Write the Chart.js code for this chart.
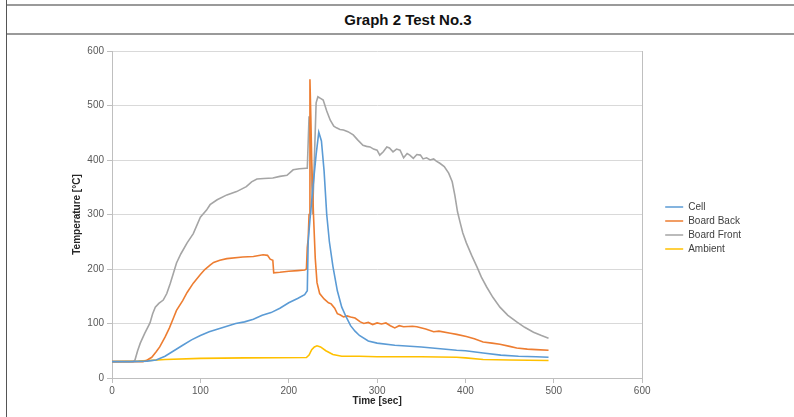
<!DOCTYPE html>
<html>
<head>
<meta charset="utf-8">
<script src="https://cdn.jsdelivr.net/npm/chart.js@4/dist/chart.umd.min.js"></script>
<style>
    body { margin: 0; background: #fff; width: 794px; height: 417px; overflow: hidden; position: relative; font-family: "Liberation Sans", Arial, sans-serif; }
    .hline { position: absolute; left: 6px; right: 0; height: 2px; background: #9a9a9a; }
    .vline { position: absolute; left: 6px; top: 0; bottom: 0; width: 1px; background: #555; }
    #title { position: absolute; left: 6px; right: -16px; top: 5px; height: 29px; line-height: 30px; text-align: center; font-weight: bold; font-size: 15px; color: #111; }
    #box { position: absolute; left: 8px; top: 36px; width: 786px; height: 381px; }
</style>
</head>
<body>
<div class="hline" style="top:4px"></div>
<div class="hline" style="top:33px"></div>
<div class="vline"></div>
<div id="title">Graph 2 Test No.3</div>
<div id="box"><canvas id="graph" width="786" height="381"></canvas></div>
<script>
    // Series: time [sec] and temperature [°C]
    var cellTime = [0, 20, 40, 50, 60, 70, 80, 90, 100, 110, 120, 130, 140, 150, 160, 170, 180, 190, 200, 210, 218, 221, 222, 224, 228, 231, 234, 237, 240, 243, 246, 250, 255, 260, 265, 270, 275, 280, 290, 300, 320, 350, 390, 400, 420, 440, 460, 480, 494];
    var cellTemp = [30, 30, 31, 33, 40, 50, 60, 70, 78, 85, 90, 95, 100, 103, 108, 115, 120, 128, 138, 146, 153, 160, 250, 290, 360, 410, 451, 435, 380, 300, 250, 205, 160, 130, 112, 96, 86, 78, 68, 64, 60, 57, 51, 50, 46, 42, 40, 39, 38];

    var backTime = [0, 20, 35, 40, 45, 50, 54, 60, 65, 70, 73, 80, 85, 92, 100, 105, 111, 115, 122, 130, 148, 160, 171, 176, 179, 182, 183, 190, 200, 210, 218, 220, 221, 222, 223, 224, 225, 226, 228, 230, 232, 235, 240, 245, 248, 252, 255, 258, 262, 266, 270, 275, 281, 285, 290, 295, 300, 305, 310, 315, 320, 325, 330, 340, 345, 355, 364, 370, 383, 390, 401, 410, 420, 430, 439, 450, 458, 470, 480, 494];
    var backTemp = [30, 30, 30, 33, 38, 48, 57, 75, 92, 112, 124, 142, 157, 174, 190, 199, 207, 212, 216, 219, 222, 223, 226, 225, 218, 216, 193, 194, 196, 197, 198, 200, 240, 255, 300, 548, 480, 400, 300, 220, 175, 155, 145, 138, 136, 128, 118, 116, 112, 114, 112, 110, 103, 100, 102, 98, 101, 99, 101, 96, 92, 96, 94, 95, 94, 90, 85, 86, 82, 80, 76, 72, 66, 64, 62, 58, 55, 53, 52, 51];

    var frontTime = [0, 24, 26, 29, 32, 37, 43, 46, 49, 53, 58, 62, 66, 70, 73, 78, 85, 92, 100, 107, 111, 119, 130, 141, 152, 158, 164, 172, 182, 190, 198, 205, 212, 220, 221, 223, 225, 227, 229, 231, 233, 236, 239, 243, 247, 251, 254, 258, 262, 267, 273, 278, 284, 288, 292, 296, 300, 303, 307, 311, 314, 318, 322, 326, 330, 334, 337, 341, 345, 349, 352, 356, 360, 364, 367, 371, 376, 381, 385, 388, 391, 394, 397, 401, 407, 413, 418, 424, 431, 439, 448, 458, 467, 477, 486, 494];
    var frontTemp = [30, 30, 33, 50, 64, 82, 101, 118, 130, 137, 143, 155, 174, 195, 211, 228, 248, 265, 295, 308, 318, 327, 336, 342, 351, 360, 365, 366, 367, 370, 372, 382, 384, 385, 385, 480, 420, 300, 400, 505, 516, 513, 510, 490, 473, 462, 459, 456, 455, 452, 446, 437, 427, 425, 424, 420, 418, 409, 415, 424, 422, 415, 420, 418, 404, 412, 409, 403, 410, 409, 402, 404, 400, 402, 398, 394, 388, 376, 360, 335, 305, 285, 266, 248, 225, 204, 185, 167, 148, 130, 115, 103, 93, 84, 78, 73];

    var ambientTime = [0, 30, 60, 100, 150, 220, 223, 226, 229, 232, 236, 242, 250, 260, 280, 300, 350, 390, 400, 420, 450, 494];
    var ambientTemp = [30, 31, 34, 36, 37, 37.5, 42, 52, 57, 59, 57, 50, 43, 40, 40, 39, 39, 38, 37, 34, 33, 32];

    var seriesNames = ['Cell', 'Board Back', 'Board Front', 'Ambient'];
    var seriesColours = ['#5B9BD5', '#ED7D31', '#A5A5A5', '#FFC000'];
    var axisTicks = [0, 100, 200, 300, 400, 500, 600];

    function toPoints(times, temps) {
        return times.map(function (t, i) { return { x: t, y: temps[i] }; });
    }

    var allSeries = [
        toPoints(cellTime, cellTemp),
        toPoints(backTime, backTemp),
        toPoints(frontTime, frontTemp),
        toPoints(ambientTime, ambientTemp)
    ];

    var fontFamily = '"Liberation Sans", Arial, sans-serif';
    var gridColour = '#D9D9D9';
    var axisColour = '#BFBFBF';

    var graph = new Chart(document.getElementById('graph'), {
        type: 'line',
        data: {
            datasets: allSeries.map(function (pts, i) {
                return {
                    label: seriesNames[i],
                    data: pts,
                    borderColor: seriesColours[i],
                    backgroundColor: seriesColours[i],
                    borderWidth: 1.6,
                    pointRadius: 0,
                    tension: 0,
                    fill: false
                };
            })
        },
        options: {
            responsive: false,
            animation: false,
            devicePixelRatio: 1,
            layout: { padding: { left: 62, top: 15, right: 43, bottom: 2 } },
            plugins: {
                tooltip: { enabled: false },
                legend: {
                    position: 'right',
                    align: 'start',
                    title: { display: true, text: ' ', font: { size: 10 }, padding: { top: 135, bottom: 0 } },
                    labels: {
                        usePointStyle: true,
                        pointStyle: 'line',
                        pointStyleWidth: 18,
                        boxHeight: 10,
                        padding: 4,
                        color: '#404040',
                        font: { family: fontFamily, size: 10 }
                    }
                }
            },
            scales: {
                x: {
                    type: 'linear',
                    min: 0,
                    max: 600,
                    afterBuildTicks: function (scale) {
                        scale.ticks = axisTicks.map(function (v) { return { value: v }; });
                    },
                    afterFit: function (scale) { scale.height = 37; },
                    grid: { drawOnChartArea: false, drawTicks: true, tickLength: 5, color: axisColour },
                    border: { color: axisColour },
                    ticks: { color: '#595959', padding: 2, maxRotation: 0, font: { family: fontFamily, size: 10 } },
                    title: {
                        display: true,
                        text: 'Time [sec]',
                        color: '#262626',
                        padding: { top: 0, bottom: 7.5 },
                        font: { family: fontFamily, size: 10, weight: 'bold' }
                    }
                },
                y: {
                    min: 0,
                    max: 600,
                    afterBuildTicks: function (scale) {
                        scale.ticks = axisTicks.map(function (v) { return { value: v }; });
                    },
                    afterFit: function (scale) { scale.width = 42; },
                    grid: { color: gridColour, tickColor: axisColour, tickLength: 5 },
                    border: { color: axisColour },
                    ticks: { color: '#595959', padding: 3, font: { family: fontFamily, size: 10 } },
                    title: {
                        display: true,
                        text: 'Temperature [°C]',
                        color: '#262626',
                        padding: { top: 1, bottom: 0 },
                        font: { family: fontFamily, size: 10, weight: 'bold' }
                    }
                },
                // right-hand frame of the plot area, no ticks
                frame: {
                    position: 'right',
                    min: 0,
                    max: 600,
                    afterFit: function (scale) { scale.width = 19; },
                    grid: { drawOnChartArea: false, drawTicks: false },
                    border: { color: axisColour },
                    ticks: { display: false }
                }
            }
        }
    });
</script>
</body>
</html>
